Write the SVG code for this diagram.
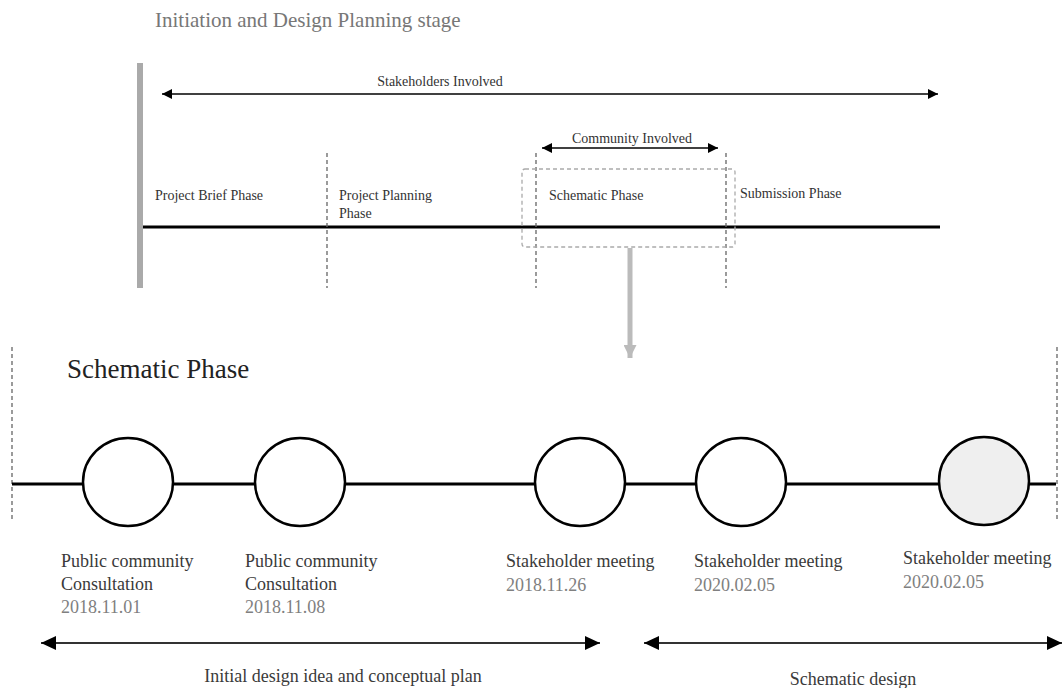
<svg xmlns="http://www.w3.org/2000/svg" width="1062" height="688" viewBox="0 0 1062 688">
<defs>
<style>
text{font-family:"Liberation Serif","Times New Roman",serif;}
.lbl{font-size:14px;fill:#333;}
.nm{font-size:18px;fill:#3a3a3a;}
.dt{font-size:18px;fill:#808080;}
.dash{stroke:#666;stroke-width:1.3;stroke-dasharray:4 3;fill:none;}
.node{fill:#fff;stroke:#000;stroke-width:2.5;}
</style>
<marker id="ah" viewBox="0 0 10 10" refX="10" refY="5" markerWidth="10" markerHeight="10" markerUnits="userSpaceOnUse" orient="auto-start-reverse">
<path d="M0,0 L10,5 L0,10 z" fill="#000"/>
</marker>
<marker id="ahb" viewBox="0 0 15 14" refX="15" refY="7" markerWidth="15" markerHeight="14" markerUnits="userSpaceOnUse" orient="auto-start-reverse">
<path d="M0,0 L15,7 L0,14 z" fill="#000"/>
</marker>
<marker id="ahg" viewBox="0 0 15 13" refX="13" refY="6.5" markerWidth="15" markerHeight="13" markerUnits="userSpaceOnUse" orient="auto">
<path d="M0,0 L13,6.5 L0,13 z" fill="#bbb"/>
</marker>
</defs>
<rect width="1062" height="688" fill="#fff"/>

<g id="top-stage">
<text x="155" y="27" font-size="21" fill="#777">Initiation and Design Planning stage</text>
<rect x="137" y="63" width="6" height="225" fill="#aaa"/>
</g>

<g id="connectors">
<line x1="162" y1="94" x2="938" y2="94" stroke="#000" stroke-width="1.3" marker-start="url(#ah)" marker-end="url(#ah)"/>
<line x1="143" y1="227" x2="940" y2="227" stroke="#000" stroke-width="3"/>
<line x1="542" y1="148" x2="718" y2="148" stroke="#000" stroke-width="1.3" marker-start="url(#ah)" marker-end="url(#ah)"/>
<line class="dash" x1="327" y1="153" x2="327" y2="288"/>
<line class="dash" x1="536" y1="153" x2="536" y2="288"/>
<line class="dash" x1="726" y1="153" x2="726" y2="288"/>
<rect x="522" y="169" width="213" height="78" rx="3" fill="none" stroke="#aaa" stroke-width="1.3" stroke-dasharray="4 3"/>
<line x1="630" y1="248" x2="630" y2="358" stroke="#bbb" stroke-width="5" marker-end="url(#ahg)"/>
<line class="dash" x1="12" y1="347" x2="12" y2="522"/>
<line class="dash" x1="1057" y1="347" x2="1057" y2="522"/>
<line x1="12" y1="484" x2="1056" y2="484" stroke="#000" stroke-width="3"/>
<line x1="41" y1="643" x2="600" y2="643" stroke="#333" stroke-width="2" marker-start="url(#ahb)" marker-end="url(#ahb)"/>
<line x1="644" y1="643" x2="1062" y2="643" stroke="#333" stroke-width="2" marker-start="url(#ahb)" marker-end="url(#ahb)"/>
</g>

<g id="labels-top">
<text class="lbl" x="440" y="86" text-anchor="middle">Stakeholders Involved</text>
<text class="lbl" x="632" y="143" text-anchor="middle">Community Involved</text>
<text class="lbl" x="155" y="200">Project Brief Phase</text>
<text class="lbl" x="339" y="200">Project Planning</text>
<text class="lbl" x="339" y="218">Phase</text>
<text class="lbl" x="549" y="200">Schematic Phase</text>
<text class="lbl" x="740" y="198">Submission Phase</text>
</g>

<text x="67" y="378" font-size="27" fill="#222">Schematic Phase</text>

<g id="node-1">
<ellipse class="node" cx="128" cy="482" rx="45" ry="44"/>
<text class="nm" x="61" y="567">Public community</text>
<text class="nm" x="61" y="590">Consultation</text>
<text class="dt" x="61" y="613">2018.11.01</text>
</g>
<g id="node-2">
<ellipse class="node" cx="300" cy="482" rx="45" ry="44"/>
<text class="nm" x="245" y="567">Public community</text>
<text class="nm" x="245" y="590">Consultation</text>
<text class="dt" x="245" y="613">2018.11.08</text>
</g>
<g id="node-3">
<ellipse class="node" cx="580" cy="482" rx="45" ry="44"/>
<text class="nm" x="506" y="567">Stakeholder meeting</text>
<text class="dt" x="506" y="591">2018.11.26</text>
</g>
<g id="node-4">
<ellipse class="node" cx="741" cy="482" rx="45" ry="44"/>
<text class="nm" x="694" y="567">Stakeholder meeting</text>
<text class="dt" x="694" y="591">2020.02.05</text>
</g>
<g id="node-5">
<ellipse class="node" cx="984" cy="481" rx="45" ry="44" style="fill:#efefef"/>
<text class="nm" x="903" y="564">Stakeholder meeting</text>
<text class="dt" x="903" y="588">2020.02.05</text>
</g>

<g id="ranges">
<text class="nm" x="343" y="682" text-anchor="middle">Initial design idea and conceptual plan</text>
<text class="nm" x="853" y="685" text-anchor="middle">Schematic design</text>
</g>
</svg>
